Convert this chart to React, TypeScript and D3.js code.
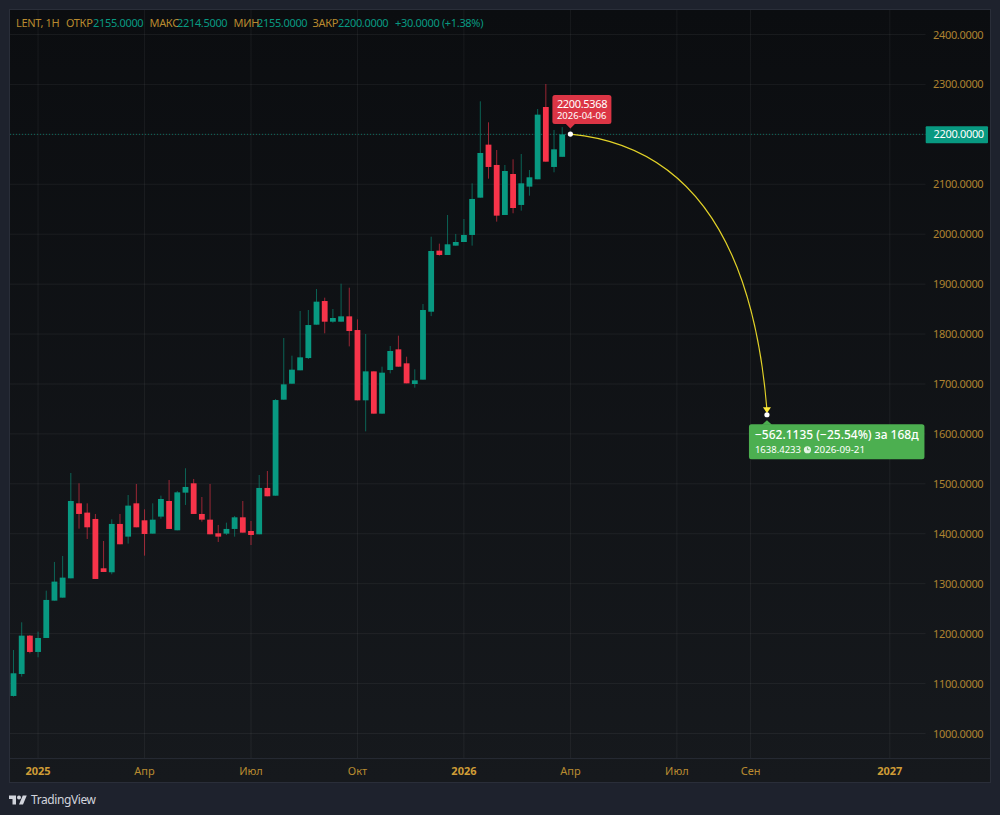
import * as d3 from 'd3'

const opens = [1075.2, 1119.2, 1196, 1163.3, 1191.3, 1266.1, 1272.1, 1310.8, 1461, 1442.4, 1429.7, 1330.9, 1322.9, 1419.7, 1394.3, 1461, 1427, 1400.3, 1434.4, 1465.7, 1407, 1482.4, 1501.1, 1439.7, 1428.3, 1401, 1400.3, 1409.7, 1433, 1405.6, 1399, 1491.8, 1476.3, 1668.6, 1700.6, 1727.4, 1752, 1818.8, 1866.2, 1824.8, 1824.8, 1835.5, 1808.1, 1667.3, 1725.3, 1640.6, 1728, 1769.4, 1741.4, 1700, 1708.7, 1844.8, 1967.1, 1958.4, 1977.1, 1984.4, 1998.5, 2073.2, 2179.4, 2138.7, 2038.5, 2120.6, 2058.6, 2095.3, 2110, 2254.8, 2134.7, 2155]
const highs = [1167.3, 1222.7, 1197.4, 1204, 1286.1, 1343.6, 1355.6, 1521.8, 1501.1, 1461, 1439.7, 1385.6, 1429, 1439.7, 1477.7, 1499.8, 1449, 1461, 1476.4, 1507.8, 1485.8, 1531.2, 1509.8, 1473.7, 1499.8, 1417.7, 1422.3, 1435.7, 1465.7, 1425.7, 1517.8, 1525.8, 1669.9, 1792.1, 1756.7, 1846.2, 1848.2, 1890.2, 1872.9, 1850.2, 1900.9, 1892.9, 1829.5, 1800.1, 1725.3, 1734.7, 1776.1, 1796.8, 1754.7, 1729.4, 1860.2, 1995, 1981.1, 2038.5, 2000.5, 2030.5, 2101.9, 2266.2, 2224.1, 2168.7, 2138.7, 2150, 2160.7, 2128.6, 2250.8, 2300.9, 2208.8, 2214.5]
const lows = [1073.8, 1113.9, 1160.6, 1152.6, 1191.3, 1266.1, 1272.1, 1310.8, 1410.3, 1389.6, 1309.5, 1323.5, 1318.9, 1379, 1380.3, 1413, 1356.2, 1400.3, 1430.3, 1409.7, 1407, 1457.7, 1439.7, 1424.3, 1399, 1383.6, 1397.6, 1394.3, 1402.3, 1377.6, 1399, 1475.1, 1476.3, 1668.6, 1700.6, 1727.4, 1750, 1818.8, 1801.5, 1822.8, 1824.8, 1775.4, 1667.3, 1605.2, 1640.6, 1640.6, 1721.3, 1734.7, 1701.3, 1692.6, 1708.7, 1836, 1957.1, 1958.4, 1977.1, 1984.4, 1977.1, 2073.2, 2111.3, 2025.2, 2038.5, 2041.9, 2047.2, 2077.2, 2110, 2145.3, 2124, 2155]
const closes = [1120.6, 1196, 1163.3, 1191.3, 1267.5, 1304.2, 1312.2, 1465.7, 1439.7, 1413, 1309.5, 1323.5, 1419.7, 1379, 1456.4, 1413, 1399.6, 1428.3, 1469.7, 1409.7, 1483, 1493.8, 1439.7, 1428.3, 1399, 1394.3, 1409.7, 1433, 1402.3, 1397.6, 1491.8, 1475.1, 1667.9, 1699.3, 1728.7, 1753.4, 1818.1, 1864.9, 1824.8, 1832.2, 1835.5, 1806.1, 1667.3, 1725.3, 1640.6, 1722.7, 1766.1, 1734.7, 1701.3, 1707.3, 1848.2, 1966.4, 1958.4, 1979.8, 1984.4, 1998.5, 2070.6, 2162.7, 2134.7, 2037.2, 2126.6, 2052.5, 2101.9, 2114, 2239.5, 2145.3, 2170, 2200]

const firstBar = new Date(Date.UTC(2024, 11, 16))
const lastDate = new Date(Date.UTC(2026, 3, 6))

const priceTicks = [1000, 1100, 1200, 1300, 1400, 1500, 1600, 1700, 1800, 1900, 2000, 2100, 2200, 2300, 2400]
const timeTicks = [
  { label: '2025', date: '2025-01-06', bold: true },
  { label: 'Апр', date: '2025-04-07', bold: false },
  { label: 'Июл', date: '2025-07-07', bold: false },
  { label: 'Окт', date: '2025-10-06', bold: false },
  { label: '2026', date: '2026-01-05', bold: true },
  { label: 'Апр', date: '2026-04-06', bold: false },
  { label: 'Июл', date: '2026-07-06', bold: false },
  { label: 'Сен', date: '2026-09-07', bold: false },
  { label: '2027', date: '2027-01-04', bold: true },
]

const lastPrice = 2200
const forecastFrom = { date: '2026-04-06', price: 2200.5368 }
const forecastTo = { date: '2026-09-21', price: 1638.4233 }
const forecastBend = { date: '2026-09-03', price: 2166.7 }

const legend = [
  { text: 'LENT, 1H', x: 16, gold: true },
  { text: 'ОТКР', x: 66, gold: true },
  { text: '2155.0000', x: 93, gold: false },
  { text: 'МАКС', x: 149.5, gold: true },
  { text: '2214.5000', x: 177, gold: false },
  { text: 'МИН', x: 233.5, gold: true },
  { text: '2155.0000', x: 257, gold: false },
  { text: 'ЗАКР', x: 312.5, gold: true },
  { text: '2200.0000', x: 338, gold: false },
  { text: '+30.0000 (+1.38%)', x: 395, gold: false },
]

const GREEN = '#089981'
const RED = '#f7344a'
const GOLD = '#ad8330'
const FONT = '"Noto Sans", "Open Sans", sans-serif'
const TIGHT = '-0.33px'

export default function App() {
  const width = 1000
  const height = 815
  const plot = { left: 10, right: 990, top: 10, bottom: 782, axisX: 925.5, axisY: 758.5 }

  const x = d3.scaleUtc().domain([firstBar, lastDate]).range([13.5, 570.4])
  const y = d3.scaleLinear().domain([1000, 2400]).range([733.5, 34.5])
  const day = (s: string) => new Date(s + 'T00:00:00Z')

  const bars = closes.map((c, i) => ({
    x: x(d3.utcDay.offset(firstBar, i * 7)),
    open: opens[i]!, high: highs[i]!, low: lows[i]!, close: c,
    up: c >= opens[i]!,
  }))

  const sx = x(day(forecastFrom.date))
  const sy = y(forecastFrom.price)
  const ex = x(day(forecastTo.date))
  const ey = y(forecastTo.price)
  const curve = d3.path()
  curve.moveTo(sx, sy)
  curve.quadraticCurveTo(x(day(forecastBend.date)), y(forecastBend.price), ex, ey - 5)

  const lastY = y(lastPrice)

  return (
    <svg width={width} height={height} style={{ position: 'absolute', left: 0, top: 0, display: 'block' }} fontFamily={FONT}>
      <defs>
        <linearGradient id="bg" x1="0" y1="0" x2="0" y2="1">
          <stop offset="0%" stopColor="#0b0d10" />
          <stop offset="100%" stopColor="#16191d" />
        </linearGradient>
      </defs>
      <rect width={width} height={height} fill="#1e222d" />
      <rect x={plot.left} y={plot.top} width={plot.right - plot.left} height={plot.bottom - plot.top} fill="url(#bg)" />

      {/* grid */}
      {priceTicks.map(p => (
        <line key={p} x1={plot.left} x2={plot.axisX} y1={y(p)} y2={y(p)} stroke="#ffffff" strokeOpacity={0.055} />
      ))}
      {timeTicks.map(t => (
        <line key={t.date} x1={x(day(t.date))} x2={x(day(t.date))} y1={plot.top} y2={plot.axisY} stroke="#ffffff" strokeOpacity={0.055} />
      ))}
      <line x1={plot.left} x2={plot.right} y1={plot.axisY} y2={plot.axisY} stroke="#252932" />
      <rect x={plot.left - 0.5} y={plot.top - 0.5} width={plot.right - plot.left + 1} height={plot.bottom - plot.top + 1} fill="none" stroke="#2a2e39" />

      {/* last price line */}
      <line x1={plot.left} x2={plot.axisX} y1={lastY} y2={lastY} stroke={GREEN} strokeOpacity={0.65} strokeWidth={1} strokeDasharray="1 2" />

      {/* candles */}
      {bars.map((b, i) => {
        const color = b.up ? GREEN : RED
        const top = y(Math.max(b.open, b.close))
        const bot = y(Math.min(b.open, b.close))
        return (
          <g key={i}>
            <line x1={b.x} x2={b.x} y1={y(b.high)} y2={y(b.low)} stroke={color} strokeOpacity={0.6} strokeWidth={1} />
            <rect x={b.x - 2.9} y={top} width={5.8} height={Math.max(bot - top, 1)} fill={color} />
          </g>
        )
      })}

      {/* forecast */}
      <path d={curve.toString()} fill="none" stroke="#e2d228" strokeWidth={1.2} />
      <path d={d3.line()([[ex - 4, ey - 7.5], [ex + 4, ey - 7.5], [ex, ey - 1.5]])!} fill="#ffeb3b" />
      <circle cx={sx} cy={sy} r={2.6} fill="#ffffff" />
      <circle cx={ex} cy={ey} r={2.6} fill="#ffffff" />

      {/* entry callout */}
      <path d={d3.line()([[sx - 4.5, sy - 10], [sx, sy - 5.5], [sx + 4.5, sy - 10]])!} fill="#dc3545" />
      <rect x={sx - 18} y={sy - 39} width={59} height={29} rx={2.5} fill="#dc3545" />
      <text x={sx - 13.5} y={sy - 26.5} fontSize={11} letterSpacing={TIGHT} fill="#ffffff">2200.5368</text>
      <text x={sx - 13.5} y={sy - 15.5} fontSize={9.5} fill="#ffffff">2026-04-06</text>

      {/* target callout */}
      <path d={d3.line()([[ex - 5, ey + 10], [ex, ey + 5.5], [ex + 5, ey + 10]])!} fill="#4caf50" />
      <rect x={ex - 18} y={ey + 9.5} width={175.5} height={35} rx={2.5} fill="#4caf50" />
      <text x={ex - 12} y={ey + 24.5} fontSize={12} fontWeight={500} fill="#ffffff">−562.1135 (−25.54%) за 168д</text>
      <text x={ex - 12} y={ey + 38.5} fontSize={9.5} fill="#ffffff">1638.4233</text>
      <circle cx={ex + 40.5} cy={ey + 35} r={3.6} fill="#ffffff" fillOpacity={0.85} />
      <path d={`M${ex + 40.5} ${ey + 32.8}V${ey + 35}H${ex + 42.5}`} fill="none" stroke="#4caf50" strokeWidth={0.8} />
      <text x={ex + 47} y={ey + 38.5} fontSize={9.8} fill="#ffffff">2026-09-21</text>

      {/* price axis */}
      {priceTicks.filter(p => p !== lastPrice).map(p => (
        <text key={p} x={933} y={y(p) + 4} fontSize={11} letterSpacing={TIGHT} fill={GOLD}>{d3.format('.4f')(p)}</text>
      ))}
      <rect x={925.7} y={lastY - 8} width={62.3} height={17} rx={1} fill={GREEN} />
      <text x={933.5} y={lastY + 4} fontSize={11} letterSpacing={TIGHT} fill="#ffffff">{d3.format('.4f')(lastPrice)}</text>

      {/* time axis */}
      {timeTicks.map(t => (
        <text key={t.date} x={x(day(t.date))} y={775} textAnchor="middle" fontSize={11}
          fontWeight={t.bold ? 700 : 400} fill={t.bold ? '#cf9c36' : '#b98b30'}>{t.label}</text>
      ))}

      {/* legend */}
      {legend.map(l => (
        <text key={l.x} x={l.x} y={27} fontSize={11} letterSpacing={TIGHT} fill={l.gold ? '#b88a2f' : GREEN}>{l.text}</text>
      ))}

      {/* logo */}
      <g transform="translate(9,793.5) scale(0.5)" fill="#d1d4dc">
        <path d="M14 22H7V11H0V4h14v18zM28 22h-8l7.5-18h8L28 22z" />
        <circle cx={20} cy={8} r={4} />
      </g>
      <text x={31} y={804} fontSize={12} letterSpacing="-0.4px" fill="#d1d4dc">TradingView</text>
    </svg>
  )
}
